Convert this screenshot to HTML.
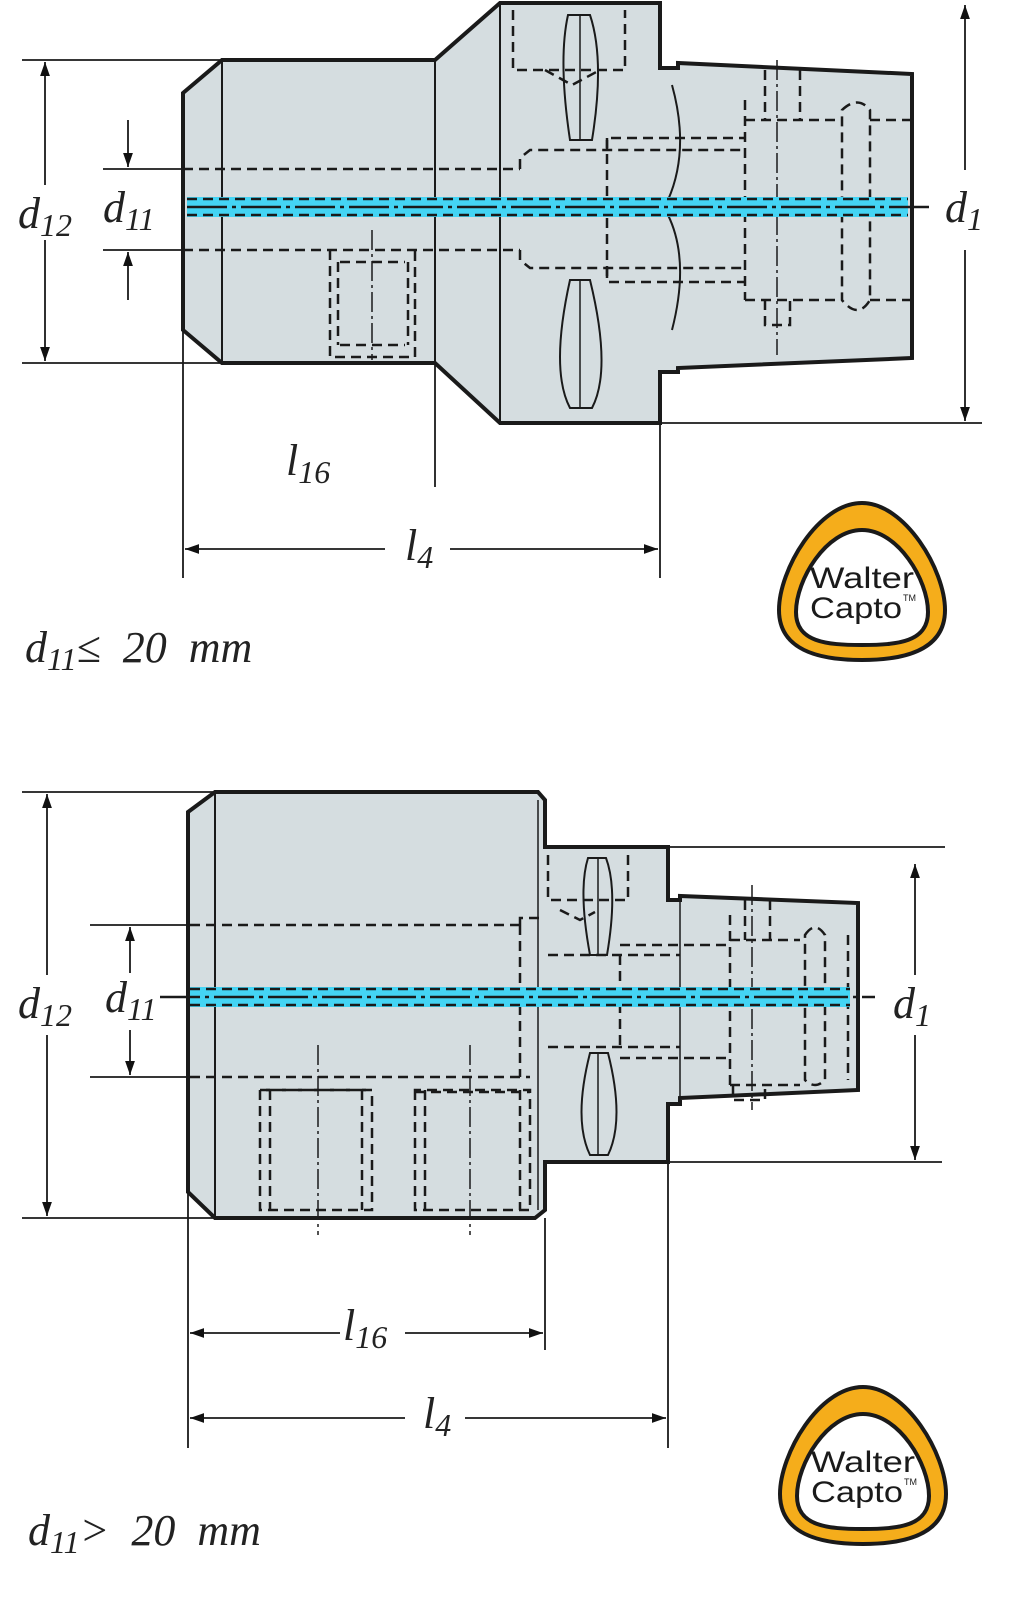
<!DOCTYPE html>
<html><head><meta charset="utf-8"><style>
html,body{margin:0;padding:0;background:#fff}
svg{display:block}
.t{font-family:"Liberation Serif",serif;font-style:italic;fill:#222}
.lg{font-family:"Liberation Sans",sans-serif;fill:#1a1a1a}
</style></head><body>
<svg width="1024" height="1598" viewBox="0 0 1024 1598" xmlns="http://www.w3.org/2000/svg">
<defs>
<marker id="a" viewBox="0 0 10 10" refX="10" refY="5" markerWidth="14" markerHeight="14" markerUnits="userSpaceOnUse" orient="auto-start-reverse"><path d="M0,1.5 L10,5 L0,8.5z" fill="#111"/></marker>
</defs>
<g stroke="#1a1a1a" fill="none">
<!-- TOP DRAWING -->
<path d="M183,93 L222,60 L435,60 L500,3 L660,3 L660,68 L678,68 L678,63 L912,74 L912,358 L678,368 L678,372 L660,372 L660,423 L500,423 L435,363 L222,363 L183,330 Z" fill="#d5dde0" stroke-width="4"/>
<line x1="222" y1="60" x2="222" y2="363" stroke-width="2"/>
<line x1="435" y1="60" x2="435" y2="363" stroke-width="2"/>
<line x1="500" y1="3" x2="500" y2="423" stroke-width="2"/>
<path d="M672,85 Q690,150 668,200" stroke-width="2"/>
<path d="M672,330 Q690,260 668,215" stroke-width="2"/>
<path d="M568,15 L590,15 Q605,60 592,140 L570,140 Q558,60 568,15Z" stroke-width="2"/>
<path d="M570,280 L590,280 Q612,370 592,408 L570,408 Q550,370 570,280Z" stroke-width="2"/>
<line x1="580" y1="15" x2="580" y2="140" stroke-width="1.5"/><line x1="580" y1="280" x2="580" y2="408" stroke-width="1.5"/>
<g stroke-dasharray="10,6" stroke-width="2.5">
<line x1="183" y1="169" x2="520" y2="169"/><line x1="183" y1="250" x2="520" y2="250"/>
<path d="M520,169 L520,158 L530,150 L745,150"/><path d="M520,250 L520,260 L530,268 L745,268"/>
<path d="M607,150 L607,138 L745,138 M607,268 L607,282 L745,282"/>
<line x1="607" y1="138" x2="607" y2="282"/>
<path d="M745,100 L745,300 M745,120 L842,120 M745,300 L842,300"/>
<path d="M842,110 Q858,95 870,110 L870,300 Q858,320 842,300 Z"/>
<line x1="870" y1="120" x2="910" y2="120"/><line x1="870" y1="300" x2="910" y2="300"/>
<path d="M765,70 L765,120 M800,70 L800,120 M765,300 L765,325 L790,325 L790,300"/>
<path d="M513,10 L513,70 L625,70 L625,10"/><path d="M545,70 L572,85 L600,70"/>
<path d="M330,250 L330,357 L415,357 L415,250 M340,262 L405,262 M340,345 L405,345 M338,262 L338,345 M408,262 L408,345"/>
</g>
<path d="M777,60 L777,355 M372,230 L372,360" stroke-width="1.5" stroke-dasharray="20,4,3,4"/>
<rect x="187" y="197" width="721" height="20" fill="#44d4f4" stroke="none"/>
<g stroke-dasharray="10,6" stroke-width="2.5"><line x1="187" y1="199" x2="908" y2="199"/><line x1="187" y1="215" x2="908" y2="215"/></g>
<line x1="187" y1="207" x2="930" y2="207" stroke-width="2.5" stroke-dasharray="40,5,4,5"/>
<g stroke-width="1.8">
<line x1="22" y1="60" x2="222" y2="60"/><line x1="22" y1="363" x2="222" y2="363"/>
<line x1="45" y1="62" x2="45" y2="185" marker-start="url(#a)"/><line x1="45" y1="240" x2="45" y2="361" marker-end="url(#a)"/>
<line x1="103" y1="169" x2="183" y2="169"/><line x1="103" y1="250" x2="183" y2="250"/>
<line x1="128" y1="120" x2="128" y2="167" marker-end="url(#a)"/><line x1="128" y1="300" x2="128" y2="252" marker-end="url(#a)"/>
<line x1="660" y1="423" x2="982" y2="423"/>
<line x1="965" y1="5" x2="965" y2="170" marker-start="url(#a)"/><line x1="965" y1="250" x2="965" y2="421" marker-end="url(#a)"/>
<line x1="183" y1="330" x2="183" y2="578"/><line x1="660" y1="423" x2="660" y2="578"/><line x1="435" y1="363" x2="435" y2="487"/>
<line x1="185" y1="549" x2="385" y2="549" marker-start="url(#a)"/><line x1="450" y1="549" x2="658" y2="549" marker-end="url(#a)"/>
</g>
<!-- BOTTOM DRAWING -->
<path d="M188,812 L215,792 L538,792 L545,800 L545,847 L668,847 L668,900 L680,900 L680,896 L858,903 L858,1090 L680,1098 L680,1104 L668,1104 L668,1162 L545,1162 L545,1210 L535,1218 L215,1218 L188,1192 Z" fill="#d5dde0" stroke-width="4"/>
<line x1="215" y1="792" x2="215" y2="1218" stroke-width="2"/>
<line x1="538" y1="800" x2="538" y2="1210" stroke-width="1.5"/>
<line x1="680" y1="900" x2="680" y2="1098" stroke-width="1.5"/>
<path d="M588,858 L606,858 Q618,890 607,955 L590,955 Q578,890 588,858Z" stroke-width="2"/>
<path d="M590,1053 L608,1053 Q625,1120 608,1155 L590,1155 Q573,1120 590,1053Z" stroke-width="2"/>
<line x1="598" y1="858" x2="598" y2="955" stroke-width="1.5"/><line x1="598" y1="1053" x2="598" y2="1155" stroke-width="1.5"/>
<g stroke-dasharray="10,6" stroke-width="2.5">
<line x1="190" y1="925" x2="520" y2="925"/><line x1="190" y1="1077" x2="530" y2="1077"/>
<path d="M520,925 L520,918 L545,918 M520,925 L520,1077"/>
<path d="M548,955 L680,955 M548,1047 L680,1047 M620,955 L620,1047 M620,945 L730,945 M620,1058 L730,1058"/>
<path d="M730,915 L730,1085 M730,940 L800,940 M730,1085 L800,1085 M745,900 L745,940 M770,900 L770,940"/>
<path d="M805,935 Q815,920 825,935 L825,1080 Q815,1090 805,1080 Z M848,935 L848,1080"/>
<path d="M548,855 L548,900 L628,900 L628,855 M560,910 L580,920 L595,912"/>
<path d="M260,1090 L260,1210 L372,1210 L372,1090 Z M270,1090 L270,1210 M362,1090 L362,1210"/>
<path d="M415,1090 L415,1210 L530,1210 L530,1090 Z M425,1090 L425,1210 M520,1090 L520,1210"/>
<path d="M260,1090 L372,1090 M415,1092 L530,1092"/>
<path d="M733,1085 L733,1100 L765,1100 L765,1085"/>
</g>
<path d="M752,885 L752,1110 M318,1045 L318,1235 M470,1045 L470,1235" stroke-width="1.5" stroke-dasharray="20,4,3,4"/>
<rect x="190" y="987" width="660" height="20" fill="#44d4f4" stroke="none"/>
<g stroke-dasharray="10,6" stroke-width="2.5"><line x1="190" y1="989" x2="850" y2="989"/><line x1="190" y1="1005" x2="850" y2="1005"/></g>
<line x1="160" y1="997" x2="875" y2="997" stroke-width="2.5" stroke-dasharray="40,5,4,5"/>
<g stroke-width="1.8">
<line x1="22" y1="792" x2="215" y2="792"/><line x1="22" y1="1218" x2="215" y2="1218"/>
<line x1="47" y1="794" x2="47" y2="975" marker-start="url(#a)"/><line x1="47" y1="1035" x2="47" y2="1216" marker-end="url(#a)"/>
<line x1="90" y1="925" x2="190" y2="925"/><line x1="90" y1="1077" x2="190" y2="1077"/>
<line x1="130" y1="973" x2="130" y2="927" marker-end="url(#a)"/><line x1="130" y1="1030" x2="130" y2="1075" marker-end="url(#a)"/>
<line x1="668" y1="847" x2="945" y2="847"/><line x1="668" y1="1162" x2="942" y2="1162"/>
<line x1="915" y1="864" x2="915" y2="975" marker-start="url(#a)"/><line x1="915" y1="1035" x2="915" y2="1160" marker-end="url(#a)"/>
<line x1="188" y1="1192" x2="188" y2="1448"/><line x1="545" y1="1218" x2="545" y2="1350"/><line x1="668" y1="1162" x2="668" y2="1448"/>
<line x1="190" y1="1333" x2="340" y2="1333" marker-start="url(#a)"/><line x1="405" y1="1333" x2="543" y2="1333" marker-end="url(#a)"/>
<line x1="190" y1="1418" x2="405" y2="1418" marker-start="url(#a)"/><line x1="465" y1="1418" x2="666" y2="1418" marker-end="url(#a)"/>
</g>
</g>
<g class="t" font-size="44">
<text x="18" y="228">d<tspan font-size="32" dy="8">12</tspan></text>
<text x="103" y="222">d<tspan font-size="32" dy="8">11</tspan></text>
<text x="945" y="222">d<tspan font-size="32" dy="8">1</tspan></text>
<text x="286" y="475">l<tspan font-size="32" dy="8">16</tspan></text>
<text x="405" y="560">l<tspan font-size="32" dy="8">4</tspan></text>
<text x="25" y="662" xml:space="preserve">d<tspan font-size="32" dy="8">11</tspan><tspan dy="-8">≤  20  mm</tspan></text>
<text x="18" y="1018">d<tspan font-size="32" dy="8">12</tspan></text>
<text x="105" y="1012">d<tspan font-size="32" dy="8">11</tspan></text>
<text x="893" y="1018">d<tspan font-size="32" dy="8">1</tspan></text>
<text x="343" y="1340">l<tspan font-size="32" dy="8">16</tspan></text>
<text x="423" y="1428">l<tspan font-size="32" dy="8">4</tspan></text>
<text x="28" y="1545" xml:space="preserve">d<tspan font-size="32" dy="8">11</tspan><tspan dy="-8">&gt;  20  mm</tspan></text>
</g>
<g>
<path d="M862,503 C905,503 945,570 945,610 C945,650 905,660 862,660 C818,660 779,650 779,610 C779,570 818,503 862,503Z" fill="#f5ad1b" stroke="#1a1a1a" stroke-width="4"/>
<path d="M862,530 C898,530 928,580 928,612 C928,642 898,645 862,645 C826,645 796,642 796,612 C796,580 826,530 862,530Z" fill="#fff" stroke="#1a1a1a" stroke-width="4"/>
<text class="lg" x="810" y="588" font-size="30" textLength="104" lengthAdjust="spacingAndGlyphs">Walter</text>
<text class="lg" x="810" y="618" font-size="30" textLength="92" lengthAdjust="spacingAndGlyphs">Capto</text>
<text class="lg" x="903" y="601" font-size="9">TM</text>
</g>
<g transform="translate(1,884)">
<path d="M862,503 C905,503 945,570 945,610 C945,650 905,660 862,660 C818,660 779,650 779,610 C779,570 818,503 862,503Z" fill="#f5ad1b" stroke="#1a1a1a" stroke-width="4"/>
<path d="M862,530 C898,530 928,580 928,612 C928,642 898,645 862,645 C826,645 796,642 796,612 C796,580 826,530 862,530Z" fill="#fff" stroke="#1a1a1a" stroke-width="4"/>
<text class="lg" x="810" y="588" font-size="30" textLength="104" lengthAdjust="spacingAndGlyphs">Walter</text>
<text class="lg" x="810" y="618" font-size="30" textLength="92" lengthAdjust="spacingAndGlyphs">Capto</text>
<text class="lg" x="903" y="601" font-size="9">TM</text>
</g>
</svg>
</body></html>
